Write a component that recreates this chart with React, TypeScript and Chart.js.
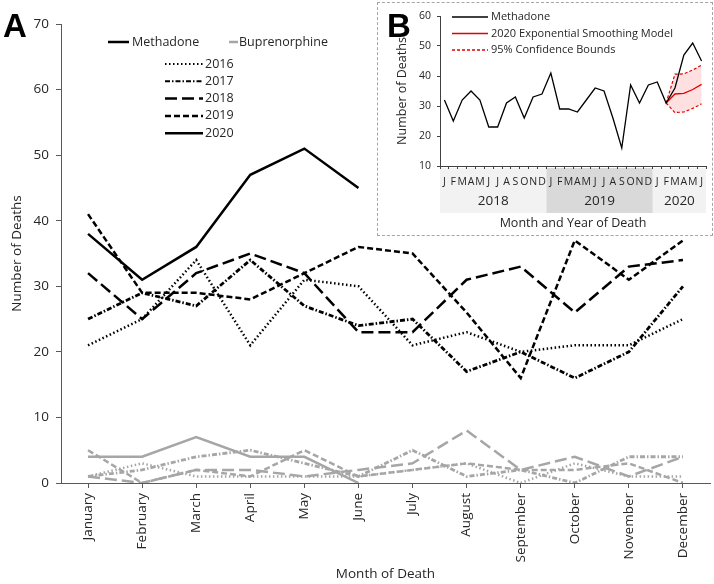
import React, { useEffect, useRef } from 'react';
import { Chart, registerables } from 'chart.js';
Chart.register(...registerables);

// ---------- Data ----------
const months = ['January', 'February', 'March', 'April', 'May', 'June', 'July', 'August', 'September', 'October', 'November', 'December'];
const years = ['2016', '2017', '2018', '2019', '2020'];

const methadone2016 = [21, 25, 34, 21, 31, 30, 21, 23, 20, 21, 21, 25];
const methadone2017 = [25, 29, 27, 34, 27, 24, 25, 17, 20, 16, 20, 30];
const methadone2018 = [32, 25, 32, 35, 32, 23, 23, 31, 33, 26, 33, 34];
const methadone2019 = [41, 29, 29, 28, 32, 36, 35, 26, 16, 37, 31, 37];
const methadone2020 = [38, 31, 36, 47, 51, 45];

const bup2016 = [1, 3, 1, 1, 1, 1, 2, 3, 0, 3, 1, 1];
const bup2017 = [1, 2, 4, 5, 3, 1, 5, 1, 2, 0, 4, 4];
const bup2018 = [1, 0, 2, 2, 1, 2, 3, 8, 2, 4, 1, 4];
const bup2019 = [5, 0, 2, 1, 5, 1, 2, 3, 2, 2, 3, 0];
const bup2020 = [4, 4, 7, 4, 4, 0];

// Inset (B)
const insetMonthLetters = ['J', 'F', 'M', 'A', 'M', 'J', 'J', 'A', 'S', 'O', 'N', 'D'];
const insetYears = ['2018', '2019', '2020'];
const modelStartIndex = 25; // Feb 2020
const model2020 = [31, 34, 34.2, 35.5, 37.2];
const upper2020 = [31, 40.6, 40.7, 42, 43.6];
const lower2020 = [31, 27.8, 28, 29.2, 30.7];

// ---------- Styles ----------
const FONT = "'Open Sans', sans-serif";
const TEXT = '#262626';
const AXIS = '#595959';
const BLACK = '#000000';
const GREY = '#A6A6A6';
const RED = '#E00000';
const yearDash: number[][] = [[1.5, 2.5], [5, 2, 1.5, 2], [12, 5], [6, 3], []];
const yearWidth = [2.5, 2.8, 2.5, 2.5, 2.5];

const methadoneSeries = [methadone2016, methadone2017, methadone2018, methadone2019, methadone2020];
const bupSeries = [bup2016, bup2017, bup2018, bup2019, bup2020];

function hLine(ctx: CanvasRenderingContext2D, x1: number, x2: number, y: number, color: string, dash: number[], width: number) {
  ctx.save();
  ctx.strokeStyle = color;
  ctx.lineWidth = width;
  ctx.setLineDash(dash);
  ctx.beginPath();
  ctx.moveTo(x1, y);
  ctx.lineTo(x2, y);
  ctx.stroke();
  ctx.restore();
}

const mainDecor = {
  id: 'mainDecor',
  afterDraw(chart: any) {
    const ctx: CanvasRenderingContext2D = chart.ctx;
    ctx.save();
    ctx.fillStyle = BLACK;
    ctx.font = "bold 33px 'Liberation Sans', Arial, sans-serif";
    ctx.textBaseline = 'alphabetic';
    ctx.textAlign = 'left';
    ctx.fillText('A', 3, 37);

    ctx.font = `12.5px ${FONT}`;
    ctx.fillStyle = TEXT;
    ctx.textBaseline = 'middle';
    hLine(ctx, 108, 129, 42, BLACK, [], 2.5);
    ctx.fillText('Methadone', 132, 42);
    hLine(ctx, 229, 238, 42, GREY, [], 2.5);
    ctx.fillText('Buprenorphine', 239, 42);

    years.forEach((yr, i) => {
      const y = 64 + i * 17.3;
      hLine(ctx, 165, 203, y, BLACK, yearDash[i], i < 2 ? 2 : 2.5);
      ctx.fillText(yr, 205, y);
    });
    ctx.restore();
  },
};

const insetDecor = {
  id: 'insetDecor',
  beforeDraw(chart: any) {
    const ctx: CanvasRenderingContext2D = chart.ctx;
    const xs = chart.scales.x;
    const half = (xs.getPixelForValue(1) - xs.getPixelForValue(0)) / 2;
    const ranges = [[0, 11], [12, 23], [24, 29]];
    const fills = ['#F2F2F2', '#D9D9D9', '#F2F2F2'];
    ctx.save();
    ranges.forEach(([a, b], i) => {
      const x1 = xs.getPixelForValue(a) - half;
      const x2 = xs.getPixelForValue(b) + half;
      ctx.fillStyle = fills[i];
      ctx.fillRect(x1, xs.top + 2, x2 - x1, 45);
      ctx.fillStyle = TEXT;
      ctx.font = `13.5px ${FONT}`;
      ctx.textAlign = 'center';
      ctx.textBaseline = 'middle';
      ctx.fillText(insetYears[i], (x1 + x2) / 2, xs.top + 35);
    });
    ctx.restore();
  },
  afterDraw(chart: any) {
    const ctx: CanvasRenderingContext2D = chart.ctx;
    ctx.save();
    ctx.fillStyle = BLACK;
    ctx.font = "bold 33px 'Liberation Sans', Arial, sans-serif";
    ctx.textBaseline = 'alphabetic';
    ctx.fillText('B', 9, 34);

    ctx.font = `11px ${FONT}`;
    ctx.fillStyle = TEXT;
    ctx.textBaseline = 'middle';
    hLine(ctx, 74, 110, 14, BLACK, [], 1.3);
    ctx.fillText('Methadone', 113, 14);
    hLine(ctx, 74, 110, 30.5, RED, [], 1.3);
    ctx.fillText('2020 Exponential Smoothing Model', 113, 30.5);
    hLine(ctx, 74, 110, 47, RED, [3, 2], 1.3);
    ctx.fillText('95% Confidence Bounds', 113, 47);
    ctx.restore();
  },
};

export default function App() {
  const mainRef = useRef<HTMLCanvasElement>(null);
  const insetRef = useRef<HTMLCanvasElement>(null);

  useEffect(() => {
    const datasets: any[] = [];
    bupSeries.forEach((d, i) => {
      datasets.push({
        label: 'Buprenorphine ' + years[i],
        data: d,
        borderColor: GREY,
        borderWidth: yearWidth[i],
        borderDash: yearDash[i],
        pointRadius: 0,
        fill: false,
        tension: 0,
      });
    });
    methadoneSeries.forEach((d, i) => {
      datasets.push({
        label: 'Methadone ' + years[i],
        data: d,
        borderColor: BLACK,
        borderWidth: yearWidth[i],
        borderDash: yearDash[i],
        pointRadius: 0,
        fill: false,
        tension: 0,
      });
    });

    const main = new Chart(mainRef.current!, {
      type: 'line',
      data: { labels: months, datasets },
      options: {
        animation: false,
        responsive: false,
        maintainAspectRatio: false,
        layout: { padding: { top: 24, right: 4, left: 0, bottom: 0 } },
        plugins: { legend: { display: false }, tooltip: { enabled: false } },
        scales: {
          x: {
            offset: true,
            grid: { display: true, drawOnChartArea: false, offset: false, tickLength: 5, color: AXIS },
            border: { color: AXIS, width: 1 },
            ticks: { minRotation: 90, maxRotation: 90, autoSkip: false, padding: 5, color: TEXT, font: { family: FONT, size: 13.5 } },
            title: { display: true, text: 'Month of Death', color: TEXT, font: { family: FONT, size: 13.5 }, padding: { top: 0, bottom: 2 } },
            afterFit: (s: any) => { s.height = 101; },
          },
          y: {
            min: 0,
            max: 70,
            grid: { display: true, drawOnChartArea: false, tickLength: 5, color: AXIS },
            border: { color: AXIS, width: 1 },
            ticks: { stepSize: 10, padding: 7, color: TEXT, font: { family: FONT, size: 13.5 } },
            title: { display: true, text: 'Number of Deaths', color: TEXT, font: { family: FONT, size: 13.5 }, padding: { top: 9, bottom: 0 } },
            afterFit: (s: any) => { s.width = 61; },
          },
        },
      },
      plugins: [mainDecor],
    });

    const insetLabels: string[] = [];
    insetYears.forEach((_, yi) => {
      const n = yi < 2 ? 12 : 6;
      for (let m = 0; m < n; m++) insetLabels.push(insetMonthLetters[m]);
    });
    const insetData = [...methadone2018, ...methadone2019, ...methadone2020];
    const pad = (arr: number[]) => [...Array(modelStartIndex).fill(null), ...arr];

    const inset = new Chart(insetRef.current!, {
      type: 'line',
      data: {
        labels: insetLabels,
        datasets: [
          { label: 'Methadone', data: insetData, borderColor: BLACK, borderWidth: 1.3, pointRadius: 0, fill: false, tension: 0 },
          { label: '2020 Exponential Smoothing Model', data: pad(model2020), borderColor: RED, borderWidth: 1.3, pointRadius: 0, fill: false, tension: 0 },
          { label: 'Upper', data: pad(upper2020), borderColor: RED, borderWidth: 1.2, borderDash: [3, 2], pointRadius: 0, fill: '+1', backgroundColor: 'rgba(255,0,0,0.12)', tension: 0 },
          { label: 'Lower', data: pad(lower2020), borderColor: RED, borderWidth: 1.2, borderDash: [3, 2], pointRadius: 0, fill: false, tension: 0 },
        ],
      },
      options: {
        animation: false,
        responsive: false,
        maintainAspectRatio: false,
        layout: { padding: { top: 13, right: 6, left: 0, bottom: 0 } },
        plugins: { legend: { display: false }, tooltip: { enabled: false } },
        scales: {
          x: {
            offset: true,
            grid: { display: true, drawOnChartArea: false, offset: true, tickLength: 3, color: '#404040' },
            border: { color: '#404040', width: 1 },
            ticks: { maxRotation: 0, minRotation: 0, autoSkip: false, padding: 7, color: TEXT, font: { family: FONT, size: 10.5 } },
            title: { display: true, text: 'Month and Year of Death', color: TEXT, font: { family: FONT, size: 12.5 }, padding: { top: 0, bottom: 3 } },
            afterFit: (s: any) => { s.height = 68; },
          },
          y: {
            min: 10,
            max: 60,
            grid: { display: true, drawOnChartArea: false, tickLength: 3, color: '#404040' },
            border: { color: '#404040', width: 1 },
            ticks: { stepSize: 10, padding: 6, color: TEXT, font: { family: FONT, size: 10.5 } },
            title: { display: true, text: 'Number of Deaths', color: TEXT, font: { family: FONT, size: 12.5 }, padding: { top: 17, bottom: 0 } },
            afterFit: (s: any) => { s.width = 62; },
          },
        },
      },
      plugins: [insetDecor],
    });

    return () => {
      main.destroy();
      inset.destroy();
    };
  }, []);

  return (
    <div style={{ position: 'fixed', left: 0, top: 0, width: 714, height: 584, background: '#fff', overflow: 'hidden' }}>
      <canvas ref={mainRef} width={714} height={584} style={{ position: 'absolute', left: 0, top: 0 }} />
      <div style={{ position: 'absolute', left: 377, top: 2, width: 336, height: 234, border: '1px dashed #A6A6A6', boxSizing: 'border-box', background: '#fff' }} />
      <canvas ref={insetRef} width={334} height={231} style={{ position: 'absolute', left: 378, top: 3 }} />
    </div>
  );
}
